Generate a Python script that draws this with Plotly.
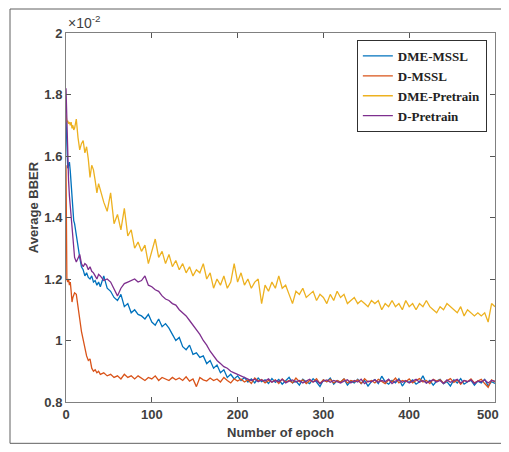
import plotly.graph_objects as go

# epochs: every epoch at the very start, then every 2, then every 4
epochs = list(range(0, 11)) + list(range(12, 41, 2)) + list(range(44, 501, 4))

dme_mssl = [1.72, 1.65, 1.56, 1.57, 1.58, 1.55, 1.50, 1.46, 1.40, 1.39, 1.38,
            1.34, 1.30, 1.27, 1.24, 1.23, 1.21, 1.22, 1.205, 1.20, 1.21, 1.19, 1.195, 1.18, 1.19, 1.175,
            1.21, 1.17, 1.16, 1.14, 1.13, 1.15, 1.11, 1.12, 1.09, 1.10,
            1.085, 1.08, 1.07, 1.085, 1.06, 1.05, 1.07, 1.045, 1.055, 1.04,
            1.02, 1.00, 1.01, 0.98, 0.97, 0.985, 0.955, 0.96, 0.945, 0.95,
            0.925, 0.935, 0.91, 0.92, 0.895, 0.905, 0.88, 0.89, 0.875, 0.885,
            0.87, 0.88, 0.865, 0.875, 0.862, 0.878, 0.866, 0.872, 0.86, 0.876,
            0.864, 0.873, 0.858, 0.87, 0.88, 0.862, 0.868, 0.855, 0.874, 0.866,
            0.86, 0.876, 0.865, 0.85, 0.872, 0.866, 0.878, 0.858, 0.87, 0.864,
            0.875, 0.855, 0.868, 0.862, 0.874, 0.86, 0.87, 0.852, 0.866, 0.873,
            0.86, 0.884, 0.866, 0.858, 0.87, 0.862, 0.876, 0.852, 0.868, 0.864,
            0.872, 0.858, 0.866, 0.885, 0.862, 0.87, 0.855, 0.868, 0.874, 0.86,
            0.866, 0.852, 0.872, 0.862, 0.876, 0.858, 0.866, 0.87, 0.855, 0.868,
            0.862, 0.874, 0.852, 0.866, 0.86]

d_mssl = [1.57, 1.20, 1.19, 1.20, 1.18, 1.19, 1.16, 1.125, 1.14, 1.15, 1.155,
          1.15, 1.10, 1.07, 1.03, 1.00, 0.97, 0.95, 0.935, 0.94, 0.91, 0.90, 0.905, 0.895, 0.90, 0.89,
          0.895, 0.885, 0.89, 0.88, 0.885, 0.875, 0.89, 0.88, 0.885, 0.875,
          0.885, 0.878, 0.87, 0.88, 0.875, 0.885, 0.87, 0.88, 0.875, 0.87,
          0.88, 0.872, 0.878, 0.87, 0.882, 0.868, 0.875, 0.85, 0.88, 0.872,
          0.868, 0.878, 0.87, 0.875, 0.865, 0.88, 0.87, 0.862, 0.875, 0.868,
          0.875, 0.865, 0.872, 0.86, 0.878, 0.868, 0.873, 0.862, 0.87, 0.865,
          0.872, 0.86, 0.875, 0.865, 0.87, 0.862, 0.878, 0.866, 0.872, 0.86,
          0.87, 0.865, 0.876, 0.86, 0.872, 0.866, 0.874, 0.862, 0.87, 0.865,
          0.875, 0.862, 0.87, 0.866, 0.872, 0.86, 0.876, 0.865, 0.87, 0.862,
          0.874, 0.866, 0.86, 0.872, 0.865, 0.878, 0.862, 0.87, 0.866, 0.875,
          0.862, 0.87, 0.876, 0.865, 0.87, 0.86, 0.874, 0.868, 0.872, 0.862,
          0.87, 0.876, 0.864, 0.872, 0.858, 0.87, 0.866, 0.875, 0.862, 0.868,
          0.874, 0.86, 0.848, 0.872, 0.865]

dme_pretrain = [1.735, 1.71, 1.715, 1.705, 1.71, 1.70, 1.71, 1.69, 1.70, 1.685, 1.69,
                1.72, 1.66, 1.62, 1.64, 1.65, 1.61, 1.63, 1.59, 1.53, 1.57, 1.555, 1.52, 1.48, 1.51, 1.49,
                1.45, 1.42, 1.48, 1.38, 1.41, 1.36, 1.43, 1.34, 1.36, 1.30,
                1.32, 1.29, 1.31, 1.25, 1.29, 1.33, 1.27, 1.29, 1.25, 1.28,
                1.24, 1.26, 1.23, 1.25, 1.22, 1.24, 1.21, 1.23, 1.22, 1.25,
                1.20, 1.22, 1.17, 1.20, 1.18, 1.21, 1.17, 1.19, 1.25, 1.19,
                1.22, 1.18, 1.20, 1.17, 1.19, 1.20, 1.12, 1.18, 1.16, 1.19,
                1.17, 1.21, 1.17, 1.18, 1.15, 1.12, 1.16, 1.15, 1.17, 1.14,
                1.15, 1.16, 1.13, 1.15, 1.14, 1.12, 1.15, 1.13, 1.16, 1.14,
                1.15, 1.12, 1.13, 1.14, 1.12, 1.13, 1.12, 1.11, 1.13, 1.12,
                1.13, 1.10, 1.12, 1.11, 1.13, 1.11, 1.12, 1.10, 1.13, 1.11,
                1.12, 1.10, 1.12, 1.11, 1.13, 1.11, 1.10, 1.09, 1.11, 1.10,
                1.12, 1.11, 1.10, 1.09, 1.11, 1.08, 1.10, 1.09, 1.08, 1.09,
                1.08, 1.09, 1.06, 1.12, 1.11]

d_pretrain = [1.82, 1.70, 1.60, 1.52, 1.47, 1.435, 1.39, 1.35, 1.31, 1.29, 1.27,
              1.255, 1.265, 1.28, 1.25, 1.24, 1.25, 1.245, 1.23, 1.24, 1.225, 1.22, 1.21, 1.20, 1.215, 1.21,
              1.195, 1.20, 1.19, 1.165, 1.145, 1.17, 1.185, 1.19, 1.195, 1.20,
              1.19, 1.195, 1.21, 1.18, 1.175, 1.165, 1.16, 1.145, 1.135, 1.13,
              1.12, 1.115, 1.10, 1.09, 1.08, 1.065, 1.05, 1.035, 1.02, 1.00,
              0.985, 0.965, 0.95, 0.935, 0.925, 0.915, 0.91, 0.90, 0.895, 0.89,
              0.885, 0.88, 0.876, 0.87, 0.874, 0.866, 0.872, 0.868, 0.875, 0.864,
              0.87, 0.866, 0.874, 0.862, 0.868, 0.872, 0.865, 0.87, 0.862, 0.868,
              0.874, 0.865, 0.87, 0.86, 0.868, 0.872, 0.864, 0.87, 0.866, 0.862,
              0.868, 0.872, 0.862, 0.87, 0.865, 0.874, 0.86, 0.868, 0.866, 0.872,
              0.864, 0.87, 0.866, 0.874, 0.86, 0.868, 0.872, 0.864, 0.87, 0.862,
              0.868, 0.874, 0.864, 0.87, 0.862, 0.868, 0.872, 0.865, 0.87, 0.86,
              0.872, 0.864, 0.868, 0.874, 0.862, 0.87, 0.866, 0.872, 0.86, 0.868,
              0.866, 0.872, 0.862, 0.87, 0.868]

series_names = ["DME-MSSL", "D-MSSL", "DME-Pretrain", "D-Pretrain"]
series_colors = ["#0072BD", "#D95319", "#EDB120", "#7E2F8E"]
x_ticks = [0, 100, 200, 300, 400, 500]
x_tick_labels = ["0", "100", "200", "300", "400", ""]  # last one drawn as an annotation so it is not hidden
y_ticks = [0.8, 1.0, 1.2, 1.4, 1.6, 1.8, 2.0]
y_tick_labels = ["0.8", "1", "1.2", "1.4", "1.6", "1.8", "2"]

sans = "Liberation Sans"
grey = "#404040"
tick_font = dict(family=sans, size=13, color=grey, weight="bold")
label_font = dict(family=sans, size=13, color=grey, weight="bold")

fig = go.Figure()
for name, ys, col in zip(series_names, [dme_mssl, d_mssl, dme_pretrain, d_pretrain], series_colors):
    fig.add_scatter(x=epochs, y=ys, mode="lines", name=name, line=dict(color=col, width=1.3))

fig.update_xaxes(range=[0, 500], tickvals=x_ticks, ticktext=x_tick_labels, ticks="inside", ticklen=5,
                 tickcolor="#555", showline=True, linecolor="#808080", linewidth=1, mirror="ticks",
                 showgrid=False, zeroline=False, tickfont=tick_font, automargin=False)
fig.update_yaxes(range=[0.8, 2.0], tickvals=y_ticks, ticktext=y_tick_labels, ticks="inside", ticklen=5,
                 tickcolor="#555", showline=True, linecolor="#808080", linewidth=1, mirror="ticks",
                 showgrid=False, zeroline=False, tickfont=tick_font, automargin=False)

# last x tick label, kept inside the page edge
fig.add_annotation(text=str(x_ticks[-1]), xref="x", yref="y", x=x_ticks[-1], y=y_ticks[0],
                   xanchor="right", yanchor="top", xshift=6, yshift=-3, showarrow=False, font=tick_font)

# axis titles placed by hand so the plot area stays put
fig.add_annotation(text="Number of epoch", xref="paper", yref="paper", x=0.5, y=-0.084,
                   xanchor="center", yanchor="middle", showarrow=False, font=label_font)
fig.add_annotation(text="Average BBER", xref="paper", yref="paper", x=-0.077, y=0.528,
                   xanchor="center", yanchor="middle", textangle=-90, showarrow=False, font=label_font)

# multiplier above the y axis, MATLAB style
fig.add_annotation(text="×10<sup>-2</sup>", xref="paper", yref="paper", x=0.0, y=1.0, xanchor="left",
                   yanchor="bottom", showarrow=False, font=dict(family=sans, size=14, color=grey))

# outer frame around the whole figure (right side runs off the page)
fig.add_shape(type="rect", xref="paper", yref="paper", x0=-0.1305, x1=1.06, y0=-0.112, y1=1.065,
              line=dict(color="#606060", width=1))

# the page body adds an 8px margin all round, so keep the figure inside the window
fig.update_layout(
    width=493, height=436,
    margin=dict(l=58, r=6, t=25, b=42),
    plot_bgcolor="white", paper_bgcolor="white",
    legend=dict(x=0.981, y=0.981, xanchor="right", yanchor="top", bgcolor="white",
                bordercolor="#303030", borderwidth=1, tracegroupgap=0,
                font=dict(family="Liberation Serif", size=13, color="#222", weight="bold")),
)

fig.write_html("out.html")
